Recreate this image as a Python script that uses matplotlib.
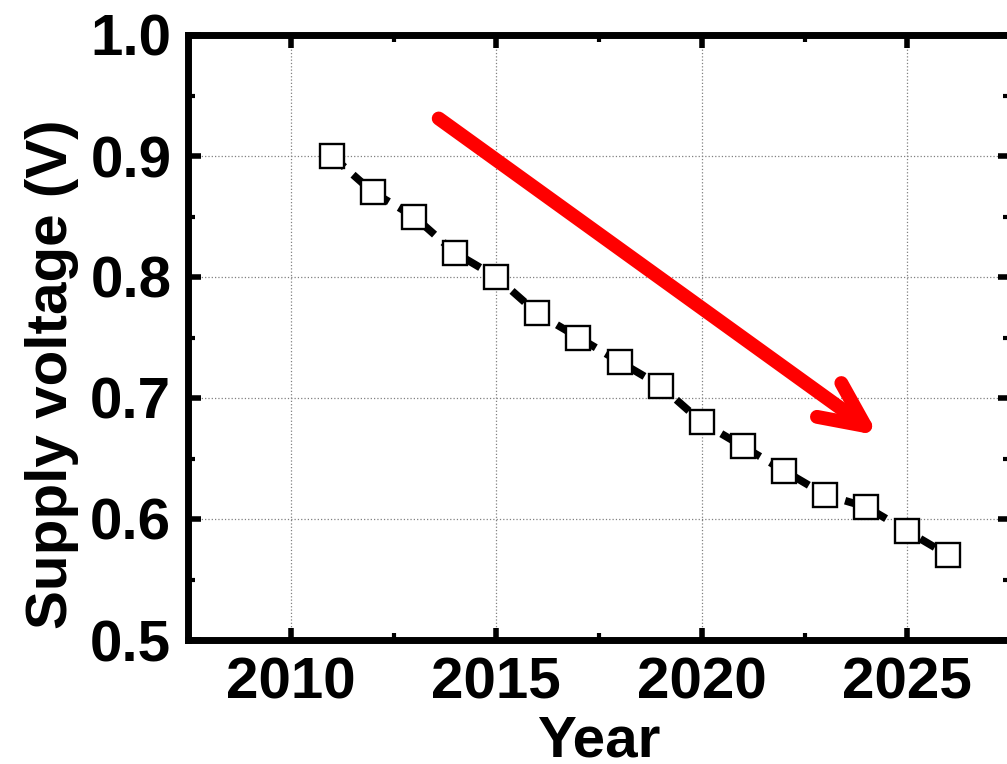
import numpy as np
import matplotlib.pyplot as plt
from matplotlib.ticker import MultipleLocator

plt.rcParams['font.family'] = ['Liberation Sans', 'DejaVu Sans']
plt.rcParams['font.weight'] = 'bold'

years = [2011, 2012, 2013, 2014, 2015, 2016, 2017, 2018, 2019, 2020,
         2021, 2022, 2023, 2024, 2025, 2026]
voltage = [0.90, 0.87, 0.85, 0.82, 0.80, 0.77, 0.75, 0.73, 0.71, 0.68,
           0.66, 0.64, 0.62, 0.61, 0.59, 0.57]

arrow_start = (2013.6, 0.931)
arrow_end = (2024.3, 0.669)

fig = plt.figure(figsize=(10.07, 7.64), dpi=100)
ax = fig.add_axes([188/1007, 1 - 640/764, 822/1007, 605/764])

ax.plot(years, voltage, color='black', lw=5.5, linestyle=(0, (2.2, 1.5)),
        marker='s', markersize=17, markerfacecolor='white',
        markeredgecolor='black', markeredgewidth=1.7, zorder=3)

ax.annotate('', xy=arrow_end, xytext=arrow_start,
            arrowprops=dict(arrowstyle='->,head_length=3.2,head_width=1.5',
                            color='#ff0000', lw=10, capstyle='round',
                            joinstyle='round', shrinkA=0, shrinkB=0),
            zorder=4)

ax.set_xlim(2007.5, 2027.5)
ax.set_ylim(0.5, 1.0)
ax.xaxis.set_major_locator(MultipleLocator(5))
ax.xaxis.set_minor_locator(MultipleLocator(2.5))
ax.yaxis.set_major_locator(MultipleLocator(0.1))
ax.yaxis.set_minor_locator(MultipleLocator(0.05))
ax.yaxis.set_major_formatter(plt.FormatStrFormatter('%.1f'))

ax.grid(True, which='major', color='gray', linestyle=':', lw=0.9)
for s in ax.spines.values():
    s.set_linewidth(5)

ax.tick_params(which='major', direction='in', length=9, width=4,
               top=True, right=True, labelsize=42, pad=12)
ax.tick_params(which='minor', direction='in', length=5, width=3,
               top=True, right=True)
for lbl in ax.get_xticklabels() + ax.get_yticklabels():
    lbl.set_fontweight('bold')

ax.set_xlabel('Year', fontsize=42, fontweight='bold', labelpad=3)
ax.set_ylabel('Supply voltage (V)', fontsize=42, fontweight='bold')
ax.yaxis.set_label_coords((79 - 188) / 822, (640 - 374) / 605)

plt.savefig('out.png', dpi=100)
